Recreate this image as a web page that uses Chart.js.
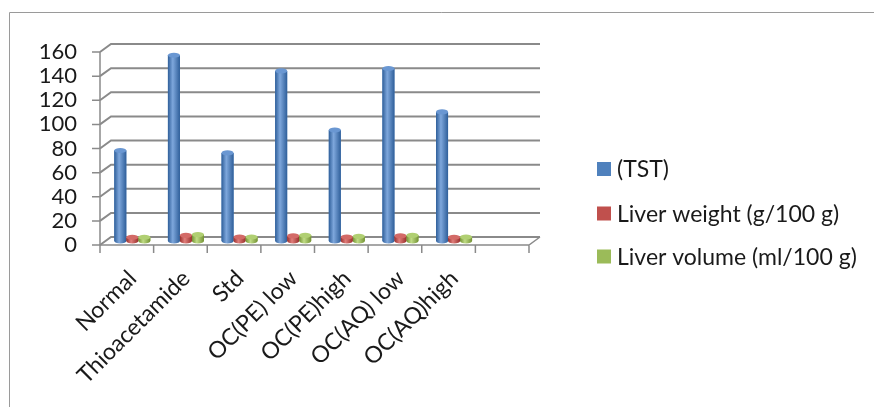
<!DOCTYPE html>
<html>
<head>
<meta charset="utf-8">
<script src="https://cdn.jsdelivr.net/npm/chart.js@4.4.0/dist/chart.umd.min.js"></script>
<style>
  html, body { margin: 0; padding: 0; background: #ffffff; }
  #wrap { width: 874px; height: 407px; position: relative; }
</style>
</head>
<body>
<div id="wrap"><canvas id="c" width="874" height="407"></canvas></div>
<script>
// Groups along the category axis (the last slot is left empty)
const categories = ['Normal', 'Thioacetamide', 'Std', 'OC(PE) low', 'OC(PE)high', 'OC(AQ) low', 'OC(AQ)high', ''];

// Series values per group
const tst         = [75, 154, 73, 141, 92, 143, 107, null];
const liverWeight = [3.1, 4.7, 3.3, 4.2, 3.3, 4.2, 3.1, null];
const liverVolume = [3.1, 5.3, 3.3, 4.7, 3.9, 4.7, 3.3, null];

const seriesNames = ['(TST)', 'Liver weight (g/100 g)', 'Liver volume (ml/100 g)'];

// Value axis range and tick step
const yMin = 0;
const yMax = 160;
const yStep = 20;

// Colours: base, dark edge, light highlight, cap
const palette = [
  { base: '#4F81BD', dark: '#2f5f9a', light: '#7ea7dc', cap: '#6a97d2' },
  { base: '#C0504D', dark: '#992f2c', light: '#e07e7b', cap: '#d36a67' },
  { base: '#9BBB59', dark: '#739233', light: '#c0dc85', cap: '#b0cf72' }
];

// Pseudo-3D depth of the back wall relative to the front plane
const DEPTH_X = 11;
const DEPTH_Y = -8;
const FONT = 'Lato, "Open Sans", sans-serif';
const GRID = '#8a8a8a';
const TEXT = '#1a1a1a';

const wall3d = {
  id: 'wall3d',
  beforeDatasetsDraw(chart) {
    const { ctx, chartArea: a, scales } = chart;
    const x = scales.x, y = scales.y;
    ctx.save();
    // outer frame
    ctx.strokeStyle = '#9a9a9a';
    ctx.lineWidth = 1;
    ctx.beginPath();
    ctx.moveTo(9.5, 407);
    ctx.lineTo(9.5, 12.5);
    ctx.lineTo(874, 12.5);
    ctx.stroke();

    // back-wall gridlines and side-wall diagonals
    ctx.strokeStyle = GRID;
    ctx.lineWidth = 2;
    for (let v = yMin; v <= yMax; v += yStep) {
      const py = y.getPixelForValue(v);
      ctx.beginPath();
      ctx.moveTo(a.left, py);
      ctx.lineTo(a.left + DEPTH_X, py + DEPTH_Y);
      ctx.lineTo(a.right + DEPTH_X, py + DEPTH_Y);
      ctx.stroke();
    }
    // front value axis line and tick marks
    ctx.lineWidth = 1.5;
    ctx.beginPath();
    ctx.moveTo(a.left, y.getPixelForValue(yMax));
    ctx.lineTo(a.left, y.getPixelForValue(yMin));
    for (let v = yMin; v <= yMax; v += yStep) {
      const py = y.getPixelForValue(v);
      ctx.moveTo(a.left - 8, py);
      ctx.lineTo(a.left, py);
    }
    ctx.stroke();
    // floor front edge, right edge and category tick marks
    const base = y.getPixelForValue(yMin);
    ctx.beginPath();
    ctx.moveTo(a.left, base);
    ctx.lineTo(a.right, base);
    ctx.lineTo(a.right + DEPTH_X, base + DEPTH_Y);
    const half = (x.getPixelForValue(1) - x.getPixelForValue(0)) / 2;
    for (let i = 0; i <= categories.length; i++) {
      const px = x.getPixelForValue(0) - half + i * half * 2;
      ctx.moveTo(px, base);
      ctx.lineTo(px, base + 8);
    }
    ctx.stroke();

    // slanted category labels
    ctx.fillStyle = TEXT;
    ctx.font = '23px ' + FONT;
    ctx.textAlign = 'right';
    ctx.textBaseline = 'alphabetic';
    categories.forEach((name, i) => {
      if (!name) return;
      const cx = x.getPixelForValue(i);
      ctx.save();
      ctx.translate(cx + 11, base + 35);
      ctx.rotate(-Math.PI / 4);
      ctx.fillText(name, 0, 0);
      ctx.restore();
    });
    ctx.restore();

    // bars sit halfway between the front plane and the back wall
    ctx.save();
    ctx.translate(DEPTH_X / 2, DEPTH_Y / 2);
  },
  afterDatasetsDraw(chart) {
    const { ctx } = chart;
    chart.data.datasets.forEach((ds, di) => {
      const meta = chart.getDatasetMeta(di);
      const col = palette[di];
      meta.data.forEach((el, i) => {
        if (ds.data[i] == null) return;
        const { x, y, base, width } = el.getProps(['x', 'y', 'base', 'width'], true);
        const l = x - width / 2, r = x + width / 2;
        const ry = Math.min(2.6, width * 0.22);
        const g = ctx.createLinearGradient(l, 0, r, 0);
        g.addColorStop(0, col.dark);
        g.addColorStop(0.4, col.light);
        g.addColorStop(1, col.dark);
        // cylinder body with rounded bottom
        ctx.fillStyle = g;
        ctx.beginPath();
        ctx.moveTo(l, y);
        ctx.lineTo(l, base);
        ctx.ellipse(x, base, width / 2, ry, 0, Math.PI, 0, true);
        ctx.lineTo(r, y);
        ctx.closePath();
        ctx.fill();
        // top cap
        ctx.fillStyle = col.cap;
        ctx.beginPath();
        ctx.ellipse(x, y, width / 2, ry, 0, 0, Math.PI * 2);
        ctx.fill();
      });
    });
    ctx.restore();
  },
  afterDraw(chart) {
    // legend on the right
    const { ctx } = chart;
    ctx.save();
    ctx.font = '23px ' + FONT;
    ctx.textBaseline = 'middle';
    ctx.textAlign = 'left';
    const rows = [169, 213.5, 256.5];
    chart.data.datasets.forEach((ds, di) => {
      const cy = rows[di];
      ctx.fillStyle = ds.backgroundColor;
      ctx.fillRect(597, cy - 7, 14, 14);
      ctx.fillStyle = TEXT;
      ctx.fillText(ds.label, 617, cy + 1);
    });
    ctx.restore();
  }
};

const datasetsFrom = [tst, liverWeight, liverVolume].map((vals, i) => ({
  label: seriesNames[i],
  data: vals,
  backgroundColor: palette[i].base,
  borderWidth: 0,
  categoryPercentage: 0.672,
  barPercentage: 1.0,
  clip: false
}));

new Chart(document.getElementById('c'), {
  type: 'bar',
  data: { labels: categories, datasets: datasetsFrom },
  plugins: [wall3d],
  options: {
    responsive: false,
    devicePixelRatio: 1,
    animation: false,
    layout: { padding: { left: 0, top: 52, right: 345, bottom: 0 } },
    plugins: { legend: { display: false }, tooltip: { enabled: false } },
    scales: {
      x: {
        grid: { display: false },
        border: { display: false },
        ticks: { display: false },
        afterFit(s) { s.height = 162; }
      },
      y: {
        min: yMin,
        max: yMax,
        grid: { display: false, drawTicks: true, tickLength: 8 },
        border: { display: false },
        ticks: {
          stepSize: yStep,
          autoSkip: false,
          padding: 15,
          color: TEXT,
          font: { family: FONT, size: 22 }
        },
        afterFit(s) { s.width = 100; }
      }
    }
  }
});
</script>
</body>
</html>
